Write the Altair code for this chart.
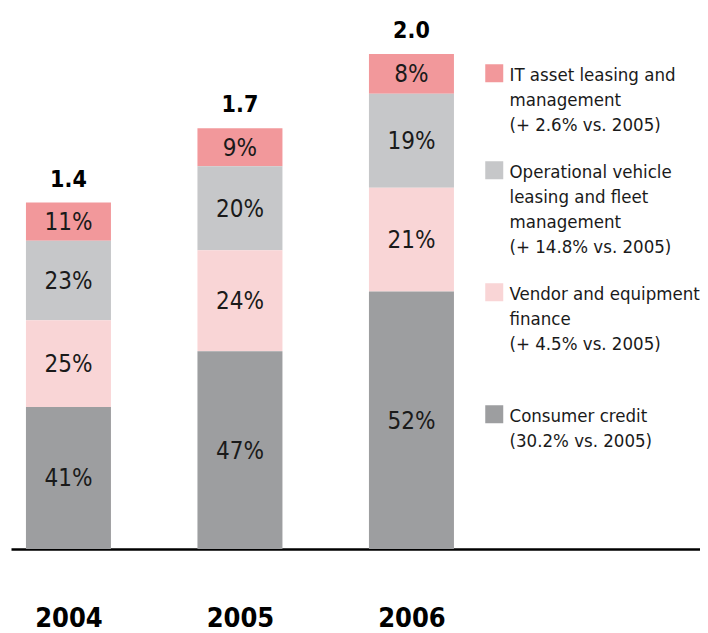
import altair as alt
import pandas as pd

# ---- data ----
years = [2004, 2005, 2006]
totals = [1.4, 1.7, 2.0]
segments = [
    "IT asset leasing and\nmanagement\n(+ 2.6% vs. 2005)",
    "Operational vehicle\nleasing and fleet\nmanagement\n(+ 14.8% vs. 2005)",
    "Vendor and equipment\nfinance\n(+ 4.5% vs. 2005)\n",
    "Consumer credit\n(30.2% vs. 2005)",
]
colors = ["#f2989b", "#c6c7c9", "#f9d5d6", "#9d9ea0"]
share_it = [11, 9, 8]
share_op = [23, 20, 19]
share_vendor = [25, 24, 21]
share_consumer = [41, 47, 52]
# stacking order, bottom to top
stack_rank = [3, 2, 1, 0]

FONT = "DejaVu Sans Condensed, Liberation Sans Narrow, sans-serif"

shares = [share_it, share_op, share_vendor, share_consumer]
rows = []
for i, yr in enumerate(years):
    for s, seg in enumerate(segments):
        rows.append({
            "year": yr,
            "segment": seg,
            "rank": stack_rank[s],
            "share": shares[s][i],
            "value": totals[i] * shares[s][i] / 100.0,
        })
df = pd.DataFrame(rows)
tot_df = pd.DataFrame({"year": years, "total": totals})

xscale = alt.Scale(domain=[2003.665, 2007.6825], nice=False, zero=False,
                   padding=0)
yscale = alt.Scale(domain=[0, 2.186], nice=False, zero=True)

xaxis = alt.Axis(values=years, format="d", ticks=False, grid=False,
                 domainColor="black", domainWidth=2.5, labelFont=FONT,
                 labelFontSize=27, labelFontWeight="bold", labelColor="black",
                 labelBaseline="alphabetic", labelPadding=69.5, title=None)

legend = alt.Legend(orient="none", legendX=474, legendY=56, title=None,
                    symbolType="square", symbolSize=324, symbolStrokeWidth=0,
                    symbolOpacity=1, labelFont=FONT, labelFontSize=18.5,
                    labelColor="#1a1a1a", labelLimit=400, labelOffset=6,
                    rowPadding=26, padding=0, labelBaseline="alphabetic",
                    labelExpr="split(datum.label, '\\n')")

base = alt.Chart(df).transform_stack(
    stack="value", groupby=["year"],
    sort=[alt.SortField("rank", order="ascending")], as_=["y0", "y1"]
).transform_calculate(
    mid="(datum.y0 + datum.y1) / 2",
    label="datum.share + '%'"
)

bars = base.mark_bar(size=85).encode(
    x=alt.X("year:Q", scale=xscale, axis=xaxis),
    y=alt.Y("y0:Q", scale=yscale, axis=None),
    y2="y1:Q",
    color=alt.Color("segment:N", scale=alt.Scale(domain=segments, range=colors),
                    legend=legend),
)

pct = base.mark_text(font=FONT, fontSize=24, baseline="middle", dy=1.5,
                     color="#1a1a1a").encode(
    x=alt.X("year:Q", scale=xscale),
    y=alt.Y("mid:Q", scale=yscale),
    text="label:N",
)

tot = alt.Chart(tot_df).mark_text(font=FONT, fontSize=23, fontWeight="bold",
                                  baseline="alphabetic", dy=-16,
                                  color="black").encode(
    x=alt.X("year:Q", scale=xscale),
    y=alt.Y("total:Q", scale=yscale),
    text=alt.Text("total:Q", format=".1f"),
)

chart = alt.layer(bars, pct, tot).properties(
    width=689, height=541,
    padding={"left": 3, "top": 0, "right": 0, "bottom": 84},
    autosize=alt.AutoSizeParams(type="none"),
).configure(
    view=alt.ViewConfig(stroke=None),
    style={"guide-label": {"dy": 7.5, "lineHeight": 25}},
)

chart.save("out.html", embed_options={"renderer": "svg", "actions": False})
